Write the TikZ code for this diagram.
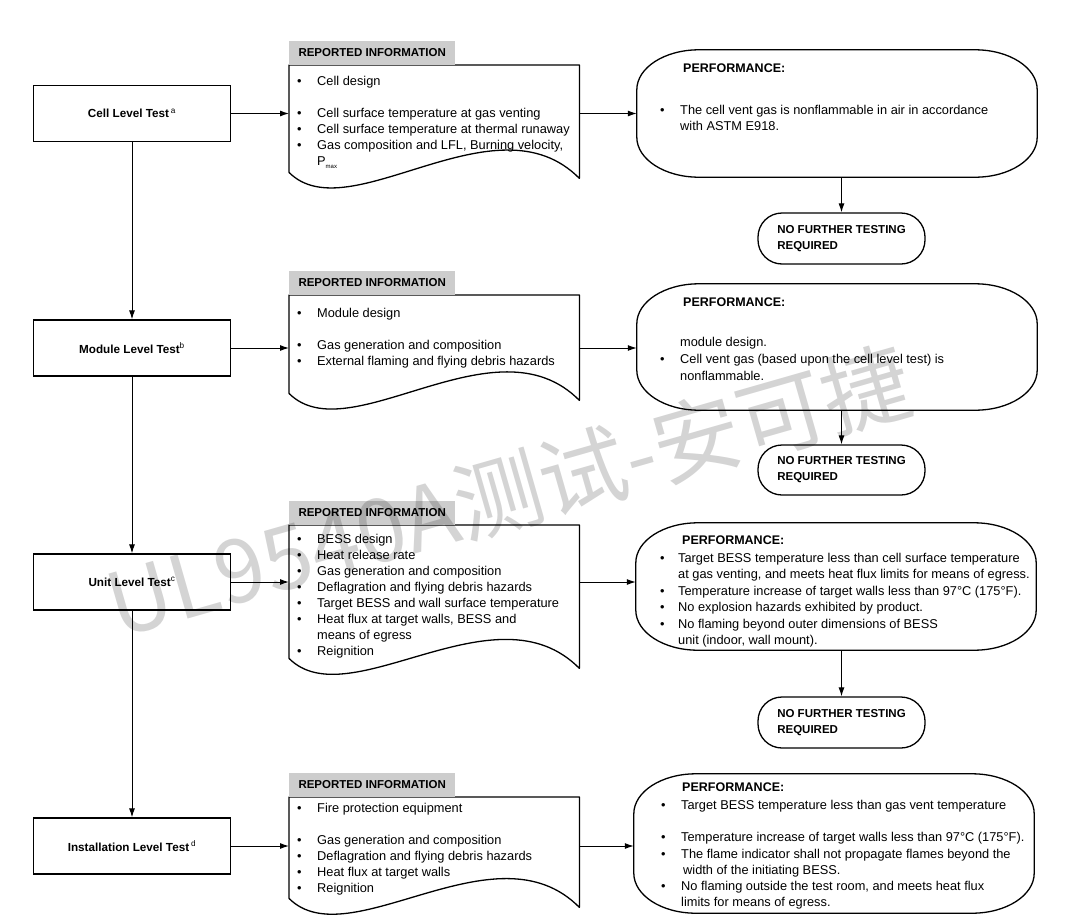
\documentclass[tikz,border=0pt]{standalone}
\usepackage{fontspec}
\setmainfont{Liberation Sans}
\newfontfamily\cjkfont{Noto Sans CJK SC}
\usetikzlibrary{arrows.meta}
\definecolor{hdrgray}{RGB}{205,205,205}
\newcommand{\bul}{\textbullet}
\newcommand{\blist}[2][20pt]{\begin{tabular}[t]{@{}p{#1}@{}l@{}}#2\end{tabular}}
% outline of a performance box with elliptical corners
\newcommand{\perfshape}[1]{%
  \draw[perfline] ([xshift=62pt]#1.north west) -- ([xshift=-62pt]#1.north east)
    arc[start angle=90, end angle=0, x radius=62pt, y radius=40pt]
    -- ([yshift=40pt]#1.south east)
    arc[start angle=0, end angle=-90, x radius=62pt, y radius=40pt]
    -- ([xshift=62pt]#1.south west)
    arc[start angle=270, end angle=180, x radius=62pt, y radius=40pt]
    -- ([yshift=-40pt]#1.north west)
    arc[start angle=180, end angle=90, x radius=62pt, y radius=40pt] -- cycle;}
\tikzset{
  lbox/.style={draw, line width=1.3pt, minimum width=197pt, minimum height=56pt, inner sep=0pt, font=\fontsize{11.7}{13}\selectfont\bfseries},
  hdr/.style={fill=hdrgray, minimum width=166pt, minimum height=24pt, inner sep=0pt, anchor=south west, font=\fontsize{11.5}{13}\selectfont\bfseries},
  docarea/.style={minimum width=290pt, inner sep=0pt, anchor=north west},
  docline/.style={line width=1.3pt, line join=round},
  perf/.style={minimum width=400pt, inner sep=0pt},
  perfline/.style={line width=1.3pt},
  nftr/.style={draw, line width=1.3pt, rounded corners=24pt, minimum width=167pt, inner sep=0pt, align=left, font=\fontsize{11.5}{16}\selectfont\bfseries},
  txt/.style={inner sep=0pt, anchor=base west, font=\fontsize{12.8}{16}\selectfont},
  ptitle/.style={inner sep=0pt, anchor=base west, font=\fontsize{12.5}{15}\selectfont\bfseries},
  arr/.style={line width=1pt, -{Latex[length=9pt,width=6pt]}},
  wm/.style={inner sep=0pt, font=\cjkfont\fontsize{88}{90}\selectfont, text=black, text opacity=0.17}
}
\begin{document}
\begin{tikzpicture}[x=1pt,y=-1pt]
\useasboundingbox (0,0) rectangle (1080,924);

% ---------- left column ----------
\node[lbox] (cell) at (132,113.5) {Cell Level Test\,\textsuperscript{\mdseries a}};
\node[lbox] (module) at (132,348) {Module Level Test\textsuperscript{\mdseries b}};
\node[lbox] (unit) at (132,582) {Unit Level Test\textsuperscript{\mdseries c}};
\node[lbox] (inst) at (132,846) {Installation Level Test\,\textsuperscript{\mdseries d}};

\draw[arr] (cell.south) -- (module.north);
\draw[arr] (module.south) -- (unit.north);
\draw[arr] (unit.south) -- (inst.north);

% ---------- reported information documents ----------
% cell
\node[docarea, minimum height=113pt] (d1) at (289,65) {};
\draw[docline] (d1.north west) -- (d1.north east) -- (d1.south east)
  .. controls +(-84,-85) and +(60,60) .. ([shift={(0,-6)}]d1.south west) -- cycle;
\node[hdr] (h1) at (d1.north west) {REPORTED INFORMATION};
\node[txt] (t1) at (297,85.5) {\blist{\bul & Cell design\\ & \\
  \bul & Cell surface temperature at gas venting\\
  \bul & Cell surface temperature at thermal runaway\\
  \bul & Gas composition and LFL, Burning velocity,\\
  & P\raisebox{-3pt}{\fontsize{6}{6}\selectfont max}}};

% module
\node[docarea, minimum height=105pt] (d2) at (289,295) {};
\draw[docline] (d2.north west) -- (d2.north east) -- (d2.south east)
  .. controls +(-84,-85) and +(60,60) .. ([shift={(0,-7)}]d2.south west) -- cycle;
\node[hdr] (h2) at (d2.north west) {REPORTED INFORMATION};
\node[txt] (t2) at (297,317.5) {\blist{\bul & Module design\\ & \\
  \bul & Gas generation and composition\\
  \bul & External flaming and flying debris hazards}};

% unit
\node[docarea, minimum height=143pt] (d3) at (289,525) {};
\draw[docline] (d3.north west) -- (d3.north east) -- (d3.south east)
  .. controls +(-84,-85) and +(60,60) .. ([shift={(0,-10)}]d3.south west) -- cycle;
\node[hdr] (h3) at (d3.north west) {REPORTED INFORMATION};
\node[txt] (t3) at (297,543.5) {\blist{\bul & BESS design\\
  \bul & Heat release rate\\
  \bul & Gas generation and composition\\
  \bul & Deflagration and flying debris hazards\\
  \bul & Target BESS and wall surface temperature\\
  \bul & Heat flux at target walls, BESS and\\
  & means of egress\\
  \bul & Reignition}};

% installation
\node[docarea, minimum height=110pt] (d4) at (289,797) {};
\draw[docline] (d4.north west) -- (d4.north east) -- (d4.south east)
  .. controls +(-84,-85) and +(60,60) .. ([shift={(0,-9)}]d4.south west) -- cycle;
\node[hdr] (h4) at (d4.north west) {REPORTED INFORMATION};
\node[txt] (t4) at (297,812.5) {\blist{\bul & Fire protection equipment\\ & \\
  \bul & Gas generation and composition\\
  \bul & Deflagration and flying debris hazards\\
  \bul & Heat flux at target walls\\
  \bul & Reignition}};

% ---------- performance boxes ----------
\node[perf, minimum height=127pt] (p1) at (837,113.5) {};
\perfshape{p1}
\node[ptitle] (pt1) at (683,72.5) {PERFORMANCE:};
\node[txt] (pl1) at (660,114.5) {\blist{\bul & The cell vent gas is nonflammable in air in accordance\\
  & with ASTM E918.}};

\node[perf, minimum height=126pt] (p2) at (837,347) {};
\perfshape{p2}
\node[ptitle] (pt2) at (683,306.5) {PERFORMANCE:};
\node[txt, font=\fontsize{12.8}{17}\selectfont] (pl2) at (660,346.5) {\blist{ & module design.\\
  \bul & Cell vent gas (based upon the cell level test) is\\
  & nonflammable.}};

\node[perf, minimum height=127pt] (p3) at (836,586.5) {};
\perfshape{p3}
\node[ptitle] (pt3) at (682,544.5) {PERFORMANCE:};
\node[txt, font=\fontsize{12.8}{16.4}\selectfont] (pl3) at (660,562.5) {\blist[18pt]{\bul & Target BESS temperature less than cell surface temperature\\
  & at gas venting, and meets heat flux limits for means of egress.\\
  \bul & Temperature increase of target walls less than 97°C (175°F).\\
  \bul & No explosion hazards exhibited by product.\\
  \bul & No flaming beyond outer dimensions of BESS\\
  & unit (indoor, wall mount).}};

\node[perf, minimum height=139pt] (p4) at (834,843.5) {};
\perfshape{p4}
\node[ptitle] (pt4) at (682,791.5) {PERFORMANCE:};
\node[txt, font=\fontsize{12.8}{16.2}\selectfont] (pl4) at (661,809.5) {\blist[20pt]{\bul & Target BESS temperature less than gas vent temperature\\ & \\
  \bul & Temperature increase of target walls less than 97°C (175°F).\\
  \bul & The flame indicator shall not propagate flames beyond the\\
  & \hspace{2pt}width of the initiating BESS.\\
  \bul & No flaming outside the test room, and meets heat flux\\
  & limits for means of egress.}};

% ---------- no further testing ----------
\node[nftr, minimum height=51pt] (n1) at (841.5,238.5) {NO FURTHER TESTING\\REQUIRED};
\node[nftr, minimum height=50pt] (n2) at (841.5,470) {NO FURTHER TESTING\\REQUIRED};
\node[nftr, minimum height=51pt] (n3) at (841.5,722.5) {NO FURTHER TESTING\\REQUIRED};

% ---------- horizontal connectors ----------
\draw[arr] (cell.east) -- (cell.east -| d1.west);
\draw[arr] (cell.east -| d1.east) -- (cell.east -| p1.west);
\draw[arr] (module.east) -- (module.east -| d2.west);
\draw[arr] (module.east -| d2.east) -- (module.east -| p2.west);
\draw[arr] (unit.east) -- (unit.east -| d3.west);
\draw[arr] (unit.east -| d3.east) -- (unit.east -| p3.west);
\draw[arr] (inst.east) -- (inst.east -| d4.west);
\draw[arr] (inst.east -| d4.east) -- (inst.east -| p4.west);

% ---------- vertical connectors to NFTR ----------
\draw[arr] (n1.north |- p1.south) -- (n1.north);
\draw[arr] (n2.north |- p2.south) -- (n2.north);
\draw[arr] (n3.north |- p3.south) -- (n3.north);

% ---------- watermark ----------
\node[wm, rotate=16] (wmark) at (509,492) {UL9540A测试-安可捷};
\end{tikzpicture}
\end{document}
